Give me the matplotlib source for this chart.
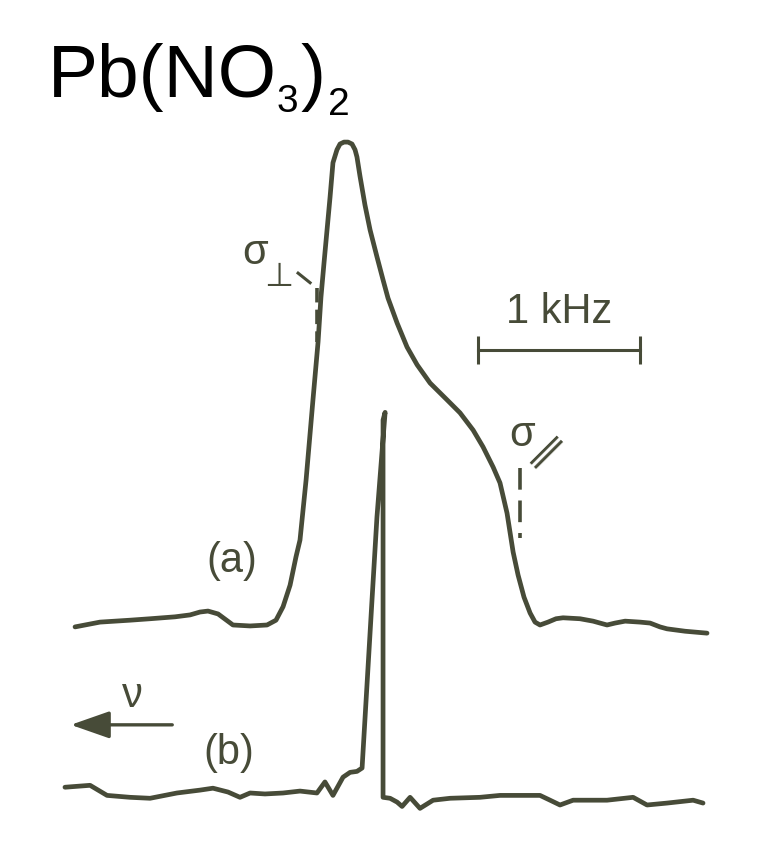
import matplotlib
matplotlib.use('Agg')
import matplotlib.pyplot as plt

# --- DỮ LIỆU: phổ 207Pb NMR của Pb(NO3)2 ---
# tần số lệch (kHz), nu tăng về bên trái; cường độ chuẩn hoá theo đỉnh (a)
freq_a = [1.925, 1.769, 1.581, 1.456, 1.300, 1.206, 1.144, 1.094, 1.031, 0.938,
          0.831, 0.725, 0.669, 0.625, 0.581, 0.544, 0.519, 0.481, 0.438, 0.406,
          0.388, 0.369, 0.350, 0.331, 0.313, 0.288, 0.269, 0.244, 0.219, 0.194,
          0.175, 0.163, 0.144, 0.113, 0.081, 0.038, 0.000, -0.031, -0.088, -0.150,
          -0.213, -0.294, -0.400, -0.481, -0.563, -0.625, -0.688, -0.731, -0.775, -0.813,
          -0.844, -0.881, -0.919, -0.950, -0.981, -1.031, -1.081, -1.125, -1.231, -1.313,
          -1.356, -1.400, -1.450, -1.513, -1.606, -1.669, -1.731, -1.775, -1.888, -2.025]
int_a = [-0.004, 0.006, 0.010, 0.013, 0.017, 0.021, 0.027, 0.029, 0.023, 0.000,
         -0.002, 0.000, 0.010, 0.038, 0.083, 0.142, 0.177, 0.302, 0.469, 0.590,
         0.683, 0.754, 0.823, 0.892, 0.963, 0.990, 1.002, 1.006, 1.006, 1.002,
         0.990, 0.975, 0.935, 0.875, 0.823, 0.767, 0.719, 0.681, 0.629, 0.579,
         0.542, 0.504, 0.469, 0.442, 0.406, 0.371, 0.329, 0.296, 0.233, 0.152,
         0.104, 0.058, 0.025, 0.006, 0.000, 0.006, 0.013, 0.015, 0.013, 0.008,
         0.004, 0.000, 0.004, 0.008, 0.006, 0.004, -0.004, -0.008, -0.013, -0.017]

freq_b = [1.988, 1.831, 1.725, 1.581, 1.456, 1.288, 1.144, 1.063, 0.969, 0.894,
          0.831, 0.738, 0.625, 0.519, 0.413, 0.363, 0.313, 0.250, 0.206, 0.163,
          0.131, 0.069, 0.038, -0.013, 0.000, 0.000, -0.044, -0.088, -0.119, -0.169,
          -0.231, -0.313, -0.419, -0.606, -0.731, -0.981, -1.044, -1.106, -1.188, -1.400,
          -1.563, -1.650, -1.775, -1.938, -2.000]
int_b = [0.027, 0.031, 0.010, 0.006, 0.004, 0.015, 0.021, 0.025, 0.017, 0.006,
         0.015, 0.013, 0.015, 0.019, 0.015, 0.038, 0.010, 0.048, 0.058, 0.060,
         0.067, 0.417, 0.590, 0.808, 0.792, 0.006, 0.004, -0.004, -0.013, 0.006,
         -0.017, 0.000, 0.004, 0.006, 0.010, 0.010, 0.000, -0.010, 0.000, 0.000,
         0.006, -0.010, -0.006, 0.000, -0.006]
OFFSET_B = -0.365

# vị trí sigma_perp, sigma_par (kHz) và thanh tỉ lệ 1 kHz
SIGMA_PERP = 0.4125
SIGMA_PAR = -0.856
SCALE_BAR = [-0.594, -1.606]

INK = '#474b38'
FONT = 'Liberation Sans'

fig = plt.figure(figsize=(7.72, 8.47), dpi=100)
ax = fig.add_axes([0, 0, 1, 1])
ax.set_xlim(2.394, -2.431)
ax.set_ylim(-0.4625, 1.302)
ax.axis('off')

ax.plot(freq_a, int_a, color=INK, lw=3.4, solid_joinstyle='round', solid_capstyle='round')
ax.plot(freq_b, [v + OFFSET_B for v in int_b], color=INK, lw=3.4,
        solid_joinstyle='round', solid_capstyle='round')

# nhãn (a), (b)
ax.text(0.944, 0.133, '(a)', fontsize=30, family=FONT, color=INK, ha='center', va='center')
ax.text(0.963, -0.267, '(b)', fontsize=30, family=FONT, color=INK, ha='center', va='center')

# thanh tỉ lệ
ax.plot(SCALE_BAR, [0.573, 0.573], color=INK, lw=2.2, marker='|', markersize=20, mew=2.2)
ax.text(sum(SCALE_BAR) / 2, 0.652, '1 kHz', fontsize=30, family=FONT, color=INK,
        ha='center', va='center')

# mũi tên nu
ax.annotate('', xy=(1.969, -0.208), xytext=(1.300, -0.208),
            arrowprops=dict(arrowstyle='-|>,head_length=1.2,head_width=0.42',
                            mutation_scale=20, lw=2.4, color=INK))
ax.text(1.569, -0.170, 'ν', fontsize=30, family=FONT, color=INK,
        ha='center', va='baseline')

# sigma_perp
ax.text(0.80, 0.752, 'σ', fontsize=30, family=FONT, color=INK, ha='center', va='baseline')
ax.text(0.655, 0.706, '⊥', fontsize=24, family='DejaVu Sans', color=INK,
        ha='center', va='baseline')
ax.plot([0.531, 0.456], [0.733, 0.713], color=INK, lw=2.2)
ax.plot([SIGMA_PERP, SIGMA_PERP], [0.702, 0.590], color=INK, lw=2.6, ls=(0, (4, 2)))

# sigma_par
ax.text(-0.869, 0.373, 'σ', fontsize=30, family=FONT, color=INK, ha='center', va='baseline')
ax.text(-1.006, 0.354, '∥', fontsize=28, family='DejaVu Sans', color=INK, ha='center',
        va='center', rotation=-45)
ax.plot([SIGMA_PAR, SIGMA_PAR], [0.327, 0.181], color=INK, lw=2.6, ls=(0, (6, 3)))

# tiêu đề Pb(NO3)2 ghép từng phần: (chuỗi, cỡ chữ, lệch dọc px, khoảng trống trước px)
renderer = fig.canvas.get_renderer()
pieces = [('Pb(NO', 54, 0, 0), ('3', 28, -15, -1), (')', 54, 0, 3), ('2', 28, -18, 2)]
x_px = 48
base_px = 847 - 97
for s, size, dy, gap in pieces:
    t = fig.text((x_px + gap) / 772, (base_px + dy) / 847, s, fontsize=size, family=FONT,
                 color='black', ha='left', va='baseline')
    bb = t.get_window_extent(renderer)
    x_px = bb.x1

fig.savefig('out.png', dpi=100)
